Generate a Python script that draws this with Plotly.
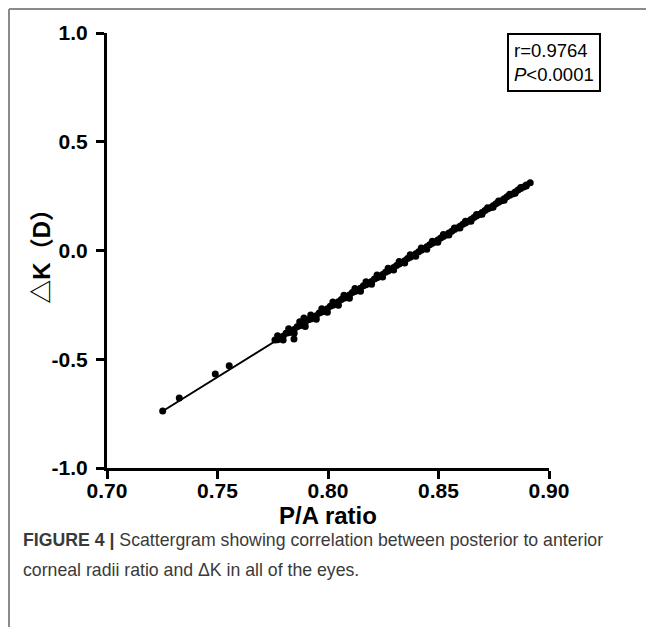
import plotly.graph_objects as go

# ---- data ----
# isolated low points
low_x = [0.7252, 0.7327, 0.7490, 0.7553]
low_y = [-0.738, -0.678, -0.568, -0.530]

# dense cloud: central run
mid_x = [0.7760, 0.7785, 0.7810, 0.7835, 0.7846, 0.7860, 0.7885, 0.7891, 0.7910, 0.7935,
         0.7960, 0.7985, 0.8010, 0.8035, 0.8060, 0.8085, 0.8110, 0.8135, 0.8160, 0.8185,
         0.8210, 0.8235, 0.8260, 0.8285, 0.8310, 0.8335, 0.8360, 0.8385, 0.8410, 0.8435,
         0.8460, 0.8485, 0.8510, 0.8535, 0.8560, 0.8585, 0.8610, 0.8635, 0.8660, 0.8685,
         0.8710, 0.8735, 0.8760, 0.8785, 0.8810, 0.8835, 0.8860, 0.8885, 0.8915]
mid_y = [-0.412, -0.405, -0.380, -0.374, -0.407, -0.350, -0.342, -0.310, -0.318, -0.310,
         -0.287, -0.279, -0.256, -0.246, -0.225, -0.215, -0.193, -0.183, -0.162, -0.151,
         -0.131, -0.119, -0.100, -0.087, -0.069, -0.055, -0.037, -0.024, -0.006, 0.008,
         0.026, 0.039, 0.057, 0.071, 0.089, 0.103, 0.121, 0.134, 0.152, 0.166,
         0.184, 0.197, 0.215, 0.229, 0.247, 0.260, 0.278, 0.292, 0.312]

# dense cloud: upper edge
up_x = [0.7772, 0.7822, 0.7872, 0.7922, 0.7972, 0.8022, 0.8072, 0.8122, 0.8172, 0.8222,
        0.8272, 0.8322, 0.8372, 0.8422, 0.8472, 0.8522, 0.8572, 0.8622, 0.8672, 0.8722,
        0.8772, 0.8822, 0.8872]
up_y = [-0.392, -0.360, -0.328, -0.297, -0.268, -0.237, -0.206, -0.175, -0.144, -0.113,
        -0.082, -0.051, -0.020, 0.011, 0.042, 0.073, 0.104, 0.135, 0.166, 0.197,
        0.228, 0.259, 0.290]
# points close to the line at the same ratios
up_line_y = [-0.410, -0.378, -0.346, -0.315, -0.283, -0.252, -0.220, -0.189, -0.157, -0.125,
             -0.094, -0.062, -0.031, 0.001, 0.033, 0.064, 0.096, 0.127, 0.159, 0.191,
             0.222, 0.254, 0.285]

# dense cloud: lower edge
lo_x = [0.7797, 0.7847, 0.7897, 0.7947, 0.7997, 0.8047, 0.8097, 0.8147, 0.8197, 0.8247,
        0.8297, 0.8347, 0.8397, 0.8447, 0.8497, 0.8547, 0.8597, 0.8647, 0.8697, 0.8747,
        0.8797, 0.8847, 0.8897]
lo_y = [-0.412, -0.381, -0.349, -0.316, -0.284, -0.252, -0.219, -0.187, -0.155, -0.122,
        -0.090, -0.058, -0.026, 0.006, 0.038, 0.071, 0.103, 0.135, 0.167, 0.199,
        0.231, 0.263, 0.296]
lo_line_y = [-0.394, -0.363, -0.331, -0.300, -0.268, -0.236, -0.205, -0.173, -0.142, -0.110,
             -0.078, -0.047, -0.015, 0.017, 0.048, 0.080, 0.111, 0.143, 0.175, 0.206,
             0.238, 0.269, 0.301]

pa_ratio = low_x + mid_x + up_x + up_x + lo_x + lo_x
delta_k = low_y + mid_y + up_y + up_line_y + lo_y + lo_line_y

# regression line end points
fit_x = [0.7253, 0.8915]
fit_y = [-0.738, 0.312]

x_ticks = [0.70, 0.75, 0.80, 0.85, 0.90]
x_tick_labels = ["0.70", "0.75", "0.80", "0.85", "0.90"]
y_ticks = [-1.0, -0.5, 0.0, 0.5, 1.0]
y_tick_labels = ["-1.0", "-0.5", "0.0", "0.5", "1.0"]

y_title = "<b>△K（D）</b>"
stats_text = "r=0.9764<br><i>P</i>&lt;0.0001"
caption_1 = "<b>FIGURE 4 |</b> Scattergram showing correlation between posterior to anterior"
caption_2 = "corneal radii ratio and ΔK in all of the eyes."

FONT = "Arial, 'Liberation Sans', 'Noto Sans CJK SC', sans-serif"

fig = go.Figure()
fig.add_trace(go.Scatter(x=fit_x, y=fit_y, mode="lines",
                         line=dict(color="black", width=2), hoverinfo="skip",
                         showlegend=False))
fig.add_trace(go.Scatter(x=pa_ratio, y=delta_k, mode="markers",
                         marker=dict(color="black", size=7), showlegend=False))

axis_common = dict(showline=True, linecolor="black", linewidth=3,
                   ticks="outside", ticklen=8, tickwidth=3, tickcolor="black",
                   showgrid=False, zeroline=False,
                   tickfont=dict(family=FONT, size=21, color="black", weight="bold"))

fig.update_xaxes(range=[0.70, 0.90], tickvals=x_ticks, ticktext=x_tick_labels,
                 ticklabelstandoff=-6,
                 title=dict(text="<b>P/A ratio</b>", font=dict(family=FONT, size=24, color="black"),
                            standoff=3),
                 **axis_common)
fig.update_yaxes(range=[-1.0, 1.0], tickvals=y_ticks, ticktext=y_tick_labels,
                 ticklabelstandoff=4,
                 **axis_common)

# y-axis title placed as rotated text
fig.add_annotation(xref="paper", yref="paper", x=-0.149, y=0.5, xanchor="center", yanchor="middle",
                   text=y_title, textangle=-90, showarrow=False,
                   font=dict(family=FONT, size=24, color="black"))

fig.add_annotation(xref="paper", yref="paper", x=1.1176, y=1.0, xanchor="right", yanchor="top",
                   text=stats_text, showarrow=False, align="left",
                   font=dict(family=FONT, size=18.5, color="black"),
                   bordercolor="black", borderwidth=2, borderpad=5, bgcolor="white")

fig.add_annotation(xref="paper", yref="paper", x=-0.1946, y=-0.165, xanchor="left", yanchor="middle",
                   text=caption_1, showarrow=False, align="left",
                   font=dict(family=FONT, size=17.7, color="#3a3a3a"))
fig.add_annotation(xref="paper", yref="paper", x=-0.1946, y=-0.234, xanchor="left", yanchor="middle",
                   text=caption_2, showarrow=False, align="left",
                   font=dict(family=FONT, size=17.7, color="#3a3a3a"))

# figure panel frame (top and left edges)
fig.add_shape(type="line", xref="paper", yref="paper", x0=-0.2217, x1=1.26, y0=1.0552, y1=1.0552,
              line=dict(color="#8a8a8a", width=2))
fig.add_shape(type="line", xref="paper", yref="paper", x0=-0.2217, x1=-0.2217, y0=1.0552, y1=-0.39,
              line=dict(color="#8a8a8a", width=2))

fig.update_layout(width=654, height=627, plot_bgcolor="white", paper_bgcolor="white",
                  margin=dict(l=99, r=113, t=25, b=167), showlegend=False)

fig.write_html("out.html")
